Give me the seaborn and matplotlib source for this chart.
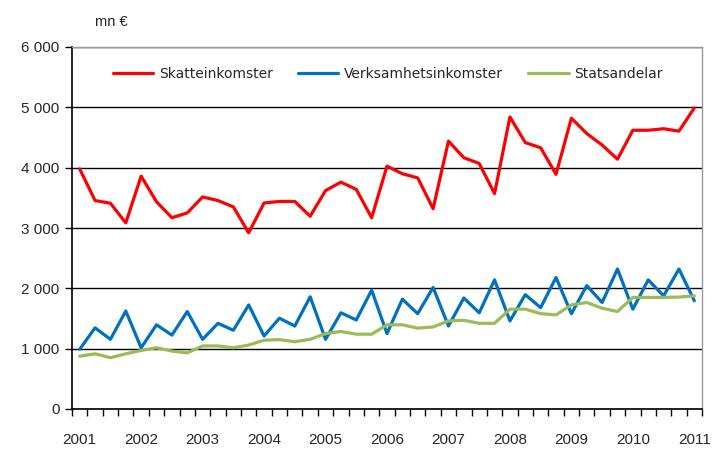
import numpy as np
import pandas as pd
import matplotlib.pyplot as plt
import seaborn as sns
from matplotlib.ticker import FixedLocator, FuncFormatter


# -----------------------------
# Data (quarterly, 2001 Q1 - 2011 Q1), mn €
# -----------------------------
years = ["2001", "2002", "2003", "2004", "2005", "2006",
         "2007", "2008", "2009", "2010", "2011"]

skatteinkomster = [3980, 3455, 3410, 3085, 3860, 3435, 3170, 3250, 3515, 3455,
                   3350, 2920, 3415, 3440, 3440, 3195, 3620, 3760, 3640, 3170,
                   4025, 3900, 3830, 3320, 4440, 4165, 4070, 3570, 4840, 4415,
                   4330, 3890, 4820, 4565, 4375, 4140, 4620, 4620, 4645, 4605,
                   4990]

verksamhetsinkomster = [990, 1345, 1155, 1625, 1015, 1395, 1225, 1615, 1155, 1420,
                        1305, 1725, 1210, 1505, 1375, 1860, 1155, 1595, 1475, 1970,
                        1250, 1820, 1580, 2015, 1375, 1840, 1595, 2140, 1460, 1895,
                        1680, 2180, 1580, 2045, 1765, 2320, 1655, 2140, 1875, 2320,
                        1795]

statsandelar = [875, 915, 850, 915, 970, 1015, 960, 930, 1045, 1045,
                1015, 1060, 1140, 1150, 1115, 1155, 1250, 1285, 1240, 1240,
                1395, 1395, 1340, 1360, 1460, 1470, 1420, 1420, 1655, 1655,
                1580, 1560, 1725, 1765, 1670, 1615, 1850, 1850, 1850, 1855,
                1875]

series_names = ["Skatteinkomster", "Verksamhetsinkomster", "Statsandelar"]
colors = ["#FF0000", "#0070C0", "#9BBB59"]

n = len(skatteinkomster)
df = pd.DataFrame({
    "quarter": np.tile(np.arange(n), 3),
    "value": skatteinkomster + verksamhetsinkomster + statsandelar,
    "series": np.repeat(series_names, n),
})


# -----------------------------
# Plot
# -----------------------------
sns.set_style("white")
plt.rcParams["font.family"] = ["Liberation Sans", "DejaVu Sans"]

fig = plt.figure(figsize=(7.13, 4.49), dpi=100)
ax = fig.add_axes([72 / 713, 1 - 409 / 449, 630 / 713, 362 / 449])

sns.lineplot(data=df, x="quarter", y="value", hue="series",
             hue_order=series_names, palette=colors,
             linewidth=2.3, ax=ax, legend=False)

ax.set_xlim(-0.5, n - 0.5)
ax.set_ylim(0, 6000)
ax.set_xlabel("")
ax.set_ylabel("")

# y axis
ax.set_yticks(range(0, 6001, 1000))
ax.yaxis.set_major_formatter(FuncFormatter(lambda v, p: f"{int(v):,}".replace(",", " ")))
ax.yaxis.grid(True, color="black", linewidth=1.0)
ax.tick_params(axis="y", direction="out", length=5, width=1, color="black",
               labelsize=11, pad=4, left=True)

# x axis: year labels every 4 quarters, tick marks between categories
ax.xaxis.set_major_locator(FixedLocator(np.arange(0, n, 4)))
ax.set_xticklabels(years)
ax.xaxis.set_minor_locator(FixedLocator(np.arange(-0.5, n, 1)))
ax.tick_params(axis="x", which="major", length=0, labelsize=11, pad=17)
ax.tick_params(axis="x", which="minor", direction="out", length=5, width=1,
               color="black", bottom=True)

for side in ["left", "bottom"]:
    ax.spines[side].set_color("black")
    ax.spines[side].set_linewidth(1.2)
for side in ["top", "right"]:
    ax.spines[side].set_color("#999999")
    ax.spines[side].set_linewidth(1.0)

# legend
handles = [plt.Line2D([], [], color=c, linewidth=2.3) for c in colors]
leg = ax.legend(handles, series_names, loc="upper left", bbox_to_anchor=(0.045, 0.98),
                ncol=3, frameon=False, handlelength=2.9,
                handletextpad=0.43, columnspacing=1.8,
                prop={"family": "DejaVu Sans", "size": 10})

fig.text(95 / 713, 1 - 22 / 449, "mn €", fontsize=10.5, va="center", ha="left")

plt.savefig("out.png", dpi=100)
plt.close()
